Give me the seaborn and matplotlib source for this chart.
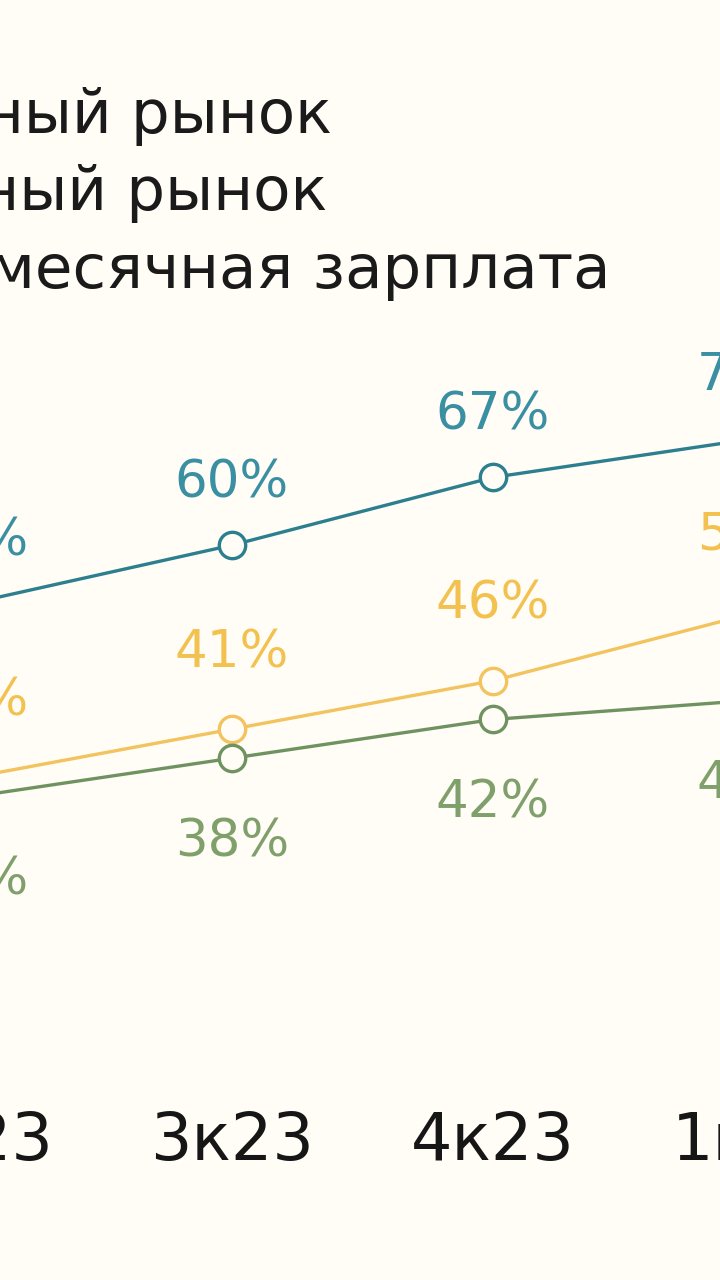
import numpy as np
import pandas as pd
import matplotlib
matplotlib.use("Agg")
import matplotlib.pyplot as plt
import seaborn as sns

# данные (видимая часть графика)
kvartaly = ["2к23", "3к23", "4к23", "1к24"]
pervichny = [54, 60, 67, 71]
vtorichny = [36, 41, 46, 53]
zarplata = [34, 38, 42, 44]

nazvaniya = ["Первичный рынок", "Вторичный рынок", "Среднемесячная зарплата"]
cveta = ["#2b7f8e", "#f2c35e", "#6f9360"]
cveta_podpisi = ["#3a8fa2", "#f3c14f", "#7f9f6b"]
fon = "#fffdf6"

sns.set_theme(style="white")
plt.rcParams["font.family"] = ["DejaVu Sans"]

fig = plt.figure(figsize=(7.2, 12.8), dpi=100, facecolor=fon)
# оси шире картинки: оригинал обрезан слева и справа
ax = fig.add_axes([-160 / 720, 180 / 1280, 1040 / 720, 1100 / 1280])
ax.set_facecolor(fon)

x = np.arange(len(kvartaly))
serii = [pervichny, vtorichny, zarplata]
sdvig = [62, 76, -84]  # смещение подписей в пикселях

for znach, nazv, c, cp, d in zip(serii, nazvaniya, cveta, cveta_podpisi, sdvig):
    df = pd.DataFrame({"x": x, "y": znach})
    sns.lineplot(data=df, x="x", y="y", ax=ax, color=c, lw=2.4,
                 marker="o", markersize=19, mfc=fon, mec=c, mew=2.4,
                 label=nazv, clip_on=False)
    for xi, v in zip(x, znach):
        ax.annotate(f"{v}%", (xi, v), xytext=(0, d * 0.72),
                    textcoords="offset points", ha="center", va="center",
                    fontsize=37, color=cp, annotation_clip=False)

ax.set_xticks(x)
ax.set_xticklabels(kvartaly, fontsize=47, color="#161616")
ax.tick_params(axis="x", length=0, pad=7)
ax.set_yticks([])
# пределы ставим после тиков, чтобы их не расширило
ax.set_xlim(1 - 392 / 261, 1 + 648 / 261)
ax.set_ylim(2.7, 116.3)
ax.set_xlabel("")
ax.set_ylabel("")
sns.despine(ax=ax, left=True, bottom=True)

# легенда: значки уходят за левый край, как на обрезанном оригинале
h, l = ax.get_legend_handles_labels()
ax.legend(h, l, loc="upper left", bbox_to_anchor=(-372 / 720, 1 - 87 / 1280),
          bbox_transform=fig.transFigure, frameon=False, fontsize=44,
          borderpad=0, borderaxespad=0, handlelength=1.5, handletextpad=0.5,
          labelspacing=0.3, labelcolor="#1a1a1a")

fig.savefig("out.png", dpi=100, facecolor=fon)
